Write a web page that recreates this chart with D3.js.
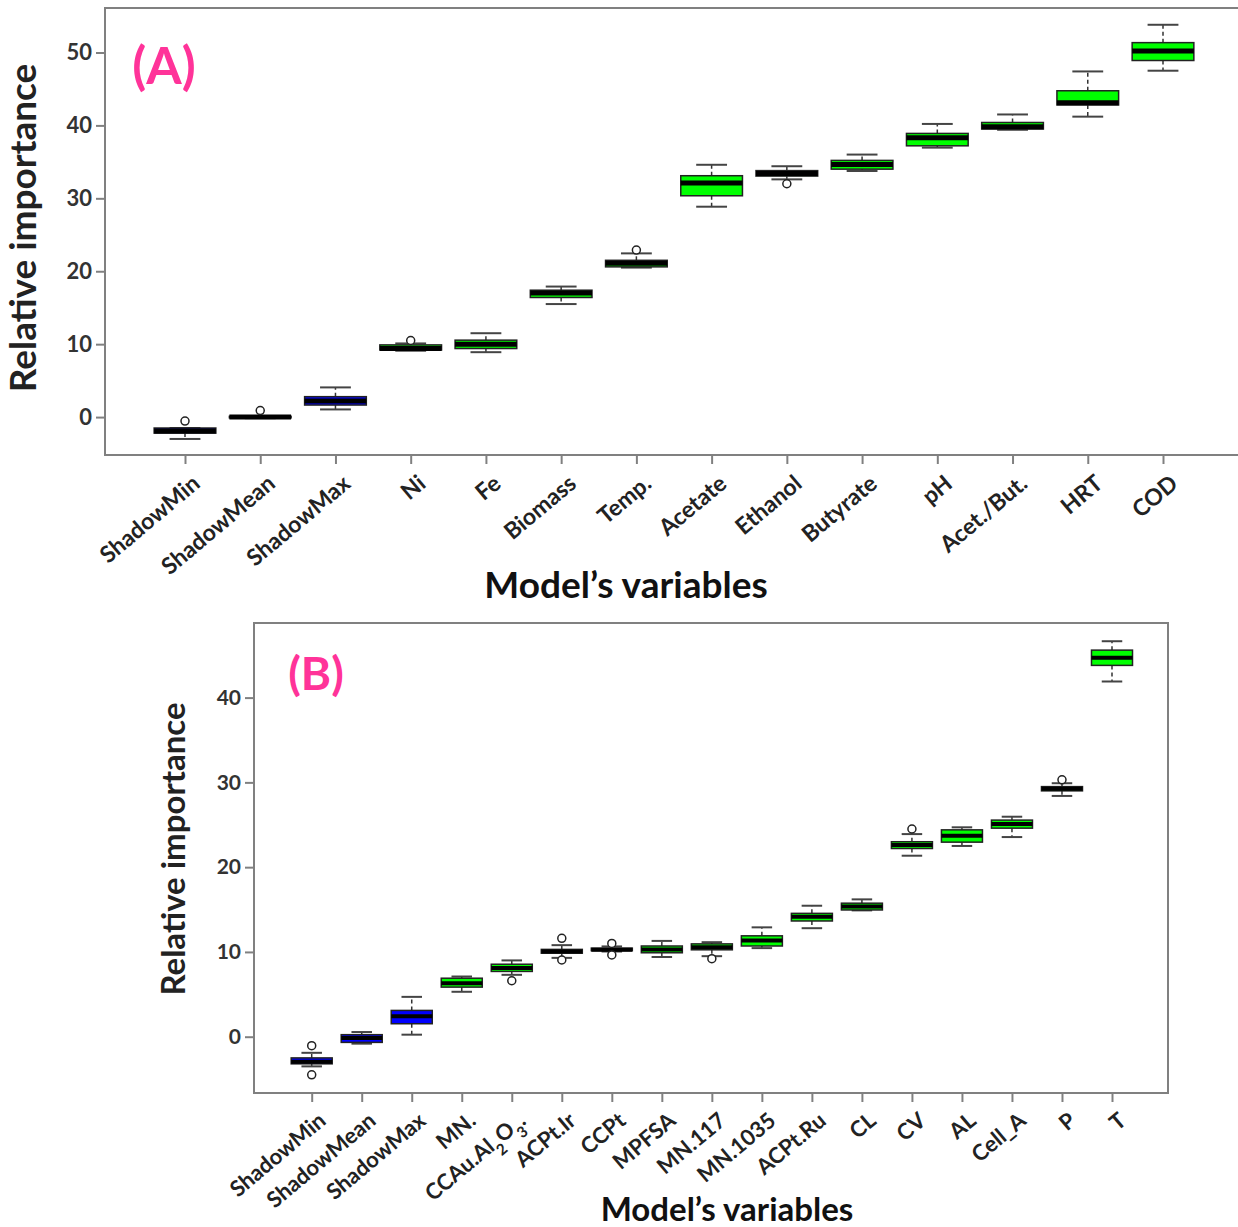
<!DOCTYPE html>
<html>
<head>
<meta charset="utf-8">
<script src="https://cdn.jsdelivr.net/npm/d3@7"></script>
<style>
  body { margin: 0; background: #fff; }
  text { font-family: Lato, "Open Sans", sans-serif; }
</style>
</head>
<body>
<svg id="chart" width="1238" height="1227"></svg>
<script>
// Panel A: variables and box stats (whisker low, Q1, median, Q3, whisker high, outliers)
const namesA = ["ShadowMin", "ShadowMean", "ShadowMax", "Ni", "Fe", "Biomass", "Temp.",
  "Acetate", "Ethanol", "Butyrate", "pH", "Acet./But.", "HRT", "COD"];
const loA  = [-3.0, -0.15, 1.05, 9.1, 8.9, 15.5, 20.5, 28.85, 32.6, 33.75, 36.95, 39.4, 41.2, 47.5];
const q1A  = [-2.2, -0.1, 1.65, 9.2, 9.4, 16.4, 20.6, 30.35, 33.05, 34.0, 37.2, 39.5, 42.8, 48.9];
const medA = [-1.9, 0.0, 2.2, 9.4, 10.0, 17.0, 21.1, 32.1, 33.4, 34.65, 38.3, 39.8, 43.1, 50.2];
const q3A  = [-1.5, 0.1, 2.8, 9.9, 10.55, 17.4, 21.5, 33.1, 33.8, 35.2, 38.9, 40.4, 44.75, 51.35];
const hiA  = [-1.5, 0.15, 4.07, 10.1, 11.5, 17.9, 22.45, 34.6, 34.4, 36.0, 40.2, 41.5, 47.4, 53.8];
const outA = [[-0.55], [0.9], [], [10.5], [], [], [22.9], [], [32.0], [], [], [], [], []];
const ticksA = [0, 10, 20, 30, 40, 50];

// Panel B
const namesB = ["ShadowMin", "ShadowMean", "ShadowMax", "MN.", "CCAu.Al_2O_3.", "ACPt.Ir", "CCPt",
  "MPFSA", "MN.117", "MN.1035", "ACPt.Ru", "CL", "CV", "AL", "Cell_A", "P", "T"];
const loB  = [-3.5, -0.82, 0.24, 5.3, 7.3, 9.3, 10.05, 9.4, 9.5, 10.45, 12.8, 14.9, 21.35, 22.5, 23.55, 28.4, 41.9];
const q1B  = [-3.2, -0.67, 1.53, 5.85, 7.7, 9.85, 10.15, 9.9, 10.25, 10.7, 13.65, 14.95, 22.2, 22.95, 24.6, 29.0, 43.8];
const medB = [-2.95, -0.15, 2.4, 6.3, 8.1, 10.05, 10.25, 10.3, 10.55, 11.35, 14.15, 15.35, 22.6, 23.7, 25.1, 29.25, 44.7];
const q3B  = [-2.5, 0.24, 3.1, 6.9, 8.55, 10.3, 10.45, 10.7, 10.95, 11.9, 14.55, 15.75, 23.0, 24.4, 25.55, 29.5, 45.6];
const hiB  = [-1.9, 0.55, 4.7, 7.1, 9.0, 10.8, 10.65, 11.3, 11.15, 12.9, 15.45, 16.2, 23.9, 24.7, 25.95, 29.9, 46.65];
const outB = [[-1.06, -4.5], [], [], [], [6.6], [11.6, 9.05], [11.0, 9.65], [], [9.2], [], [], [], [24.5], [], [], [30.3], []];
const ticksB = [0, 10, 20, 30, 40];

const svg = d3.select("#chart");
const GREEN = "#00ff00", BLUE = "#0000ff", PINK = "#ff3399", FRAME = "#808080";

function drawPanel(p) {
  const g = svg.append("g");
  const x = d3.scalePoint().domain(p.names).range(p.xRange);
  const y = d3.scaleLinear().domain(p.yDomain).range([p.bottom, p.top]);
  const bw = x.step() * 0.82;

  const rows = p.names.map((n, i) => ({
    name: n, lo: p.lo[i], q1: p.q1[i], med: p.med[i], q3: p.q3[i], hi: p.hi[i], out: p.out[i]
  }));

  // frame
  g.append("path")
    .attr("d", p.openRight
      ? `M${1240},${p.top}H${p.left}V${p.bottom}H${1240}`
      : `M${p.left},${p.top}H${p.right}V${p.bottom}H${p.left}Z`)
    .attr("fill", "none").attr("stroke", FRAME).attr("stroke-width", 2);

  // y axis
  const ya = g.append("g").attr("transform", `translate(${p.left},0)`)
    .call(d3.axisLeft(y).tickValues(p.ticks).tickSize(9).tickPadding(4));
  ya.select(".domain").remove();
  ya.selectAll(".tick line").attr("stroke", FRAME).attr("stroke-width", 2);
  ya.selectAll(".tick text").attr("font-size", p.tickFont).attr("font-weight", "bold")
    .attr("fill", "#333").style("font-family", "Lato, sans-serif");

  // x axis
  const xa = g.append("g").attr("transform", `translate(0,${p.bottom})`)
    .call(d3.axisBottom(x).tickSize(9));
  xa.select(".domain").remove();
  xa.selectAll(".tick line").attr("stroke", FRAME).attr("stroke-width", 2);
  xa.selectAll(".tick text")
    .attr("x", 0).attr("y", 0).attr("dy", 0)
    .attr("transform", `translate(${p.labOff[0]},${p.labOff[1]}) rotate(-40)`)
    .style("text-anchor", "end")
    .attr("font-size", p.labFont).attr("font-weight", "bold").attr("fill", "#222")
    .style("font-family", "Lato, sans-serif")
    .each(function (d) {
      const t = d3.select(this);
      if (/_\d/.test(d)) {
        t.text(null);
        d.split(/(_\d)/).filter(s => s.length).forEach(s => {
          if (s[0] === "_") t.append("tspan").attr("baseline-shift", "sub").attr("font-size", p.labFont * 0.7).text(s.slice(1));
          else t.append("tspan").text(s);
        });
      }
    });

  const box = g.selectAll("g.box").data(rows).enter().append("g").attr("class", "box")
    .attr("transform", d => `translate(${x(d.name)},0)`);

  // whiskers
  box.append("line").attr("y1", d => y(d.q3)).attr("y2", d => y(d.hi))
    .attr("stroke", "#333").attr("stroke-width", 1.5).attr("stroke-dasharray", "4,3");
  box.append("line").attr("y1", d => y(d.q1)).attr("y2", d => y(d.lo))
    .attr("stroke", "#333").attr("stroke-width", 1.5).attr("stroke-dasharray", "4,3");
  // staples
  [d => d.hi, d => d.lo].forEach(f => {
    box.append("line").attr("x1", -bw / 4).attr("x2", bw / 4)
      .attr("y1", d => y(f(d))).attr("y2", d => y(f(d)))
      .attr("stroke", "#444").attr("stroke-width", 2);
  });
  // boxes
  box.append("rect").attr("x", -bw / 2).attr("width", bw)
    .attr("y", d => y(d.q3)).attr("height", d => Math.max(1, y(d.q1) - y(d.q3)))
    .attr("fill", d => d.name.startsWith("Shadow") ? BLUE : GREEN)
    .attr("stroke", "#222").attr("stroke-width", 1.5);
  // medians
  box.append("line").attr("x1", -bw / 2).attr("x2", bw / 2)
    .attr("y1", d => y(d.med)).attr("y2", d => y(d.med))
    .attr("stroke", "#000").attr("stroke-width", p.medW);
  // outliers
  box.selectAll("circle").data(d => d.out).enter().append("circle")
    .attr("cy", v => y(v)).attr("r", 4)
    .attr("fill", "#fff").attr("stroke", "#222").attr("stroke-width", 1.5);

  // titles
  g.append("text").attr("transform", `translate(${p.yTitle[0]},${p.yTitle[1]}) rotate(-90)`)
    .attr("text-anchor", "middle").attr("font-size", p.yTitleFont).attr("font-weight", "bold")
    .attr("fill", "#222").text("Relative importance");
  g.append("text").attr("x", p.xTitle[0]).attr("y", p.xTitle[1])
    .attr("text-anchor", "middle").attr("font-size", p.xTitleFont).attr("font-weight", "bold")
    .attr("fill", "#111").text("Model\u2019s variables");
  g.append("text").attr("x", p.tag[0]).attr("y", p.tag[1])
    .attr("text-anchor", "middle").attr("font-size", p.tagFont).attr("font-weight", "bold")
    .attr("fill", PINK).text(p.tagText);
}

drawPanel({
  names: namesA, lo: loA, q1: q1A, med: medA, q3: q3A, hi: hiA, out: outA, ticks: ticksA,
  left: 105, top: 8, bottom: 455, openRight: true,
  xRange: [185, 1163], yDomain: [-5.2, 56.1],
  tickFont: 22, labFont: 23, labOff: [16, 31], medW: 5,
  yTitle: [36, 228], yTitleFont: 37, xTitle: [626, 598], xTitleFont: 37,
  tag: [164, 84], tagFont: 51, tagText: "(A)"
});

drawPanel({
  names: namesB, lo: loB, q1: q1B, med: medB, q3: q3B, hi: hiB, out: outB, ticks: ticksB,
  left: 254, right: 1168, top: 623, bottom: 1093, openRight: false,
  xRange: [311.7, 1112], yDomain: [-6.64, 48.8],
  tickFont: 21, labFont: 22, labOff: [15, 30], medW: 4,
  yTitle: [185, 849], yTitleFont: 33, xTitle: [727, 1221], xTitleFont: 33,
  tag: [316, 690], tagFont: 46, tagText: "(B)"
});
</script>
</body>
</html>
